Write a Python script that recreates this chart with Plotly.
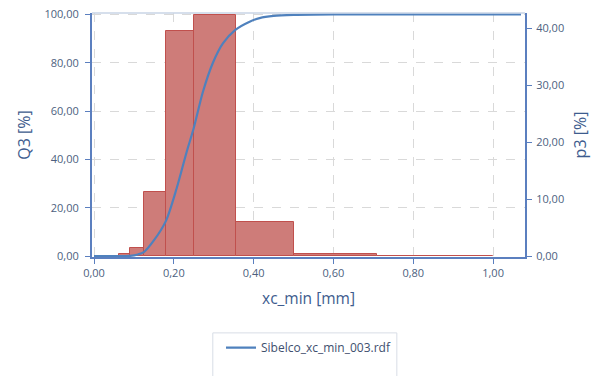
"""Particle size distribution: Q3 cumulative curve over p3 density bars."""

import plotly.graph_objects as go

# sieve class edges [mm] and density per class p3 [%]
class_edges = [0.063, 0.09, 0.125, 0.18, 0.25, 0.355, 0.5, 0.71, 1.0]
p3_values = [0.3, 1.4, 11.3, 39.6, 42.4, 6.0, 0.3, 0.1]

# cumulative curve Q3 [%]
q3_x = [0, 0.05, 0.09, 0.11, 0.125, 0.15, 0.18, 0.207, 0.232, 0.25,
        0.273, 0.298, 0.323, 0.355, 0.39, 0.415, 0.45, 0.5, 0.6, 1.07]
q3_y = [0, 0, 0.1, 0.7, 1.7, 6.5, 14.5, 28, 43, 53,
        68, 80, 88, 93.7, 97, 98.5, 99.4, 99.8, 100, 100]

series_name = "Sibelco_xc_min_003.rdf"

FONT = "Open Sans"
TICK_COLOR = "#4d5f80"
TITLE_COLOR = "#3e5c8e"
AXIS_COLOR = "#5b7fbf"
GRID_COLOR = "#d9d9d9"

centers = [(a + b) / 2 for a, b in zip(class_edges[:-1], class_edges[1:])]
widths = [b - a for a, b in zip(class_edges[:-1], class_edges[1:])]

fig = go.Figure()
fig.add_trace(
    go.Bar(
        x=centers,
        y=p3_values,
        width=widths,
        yaxis="y",
        marker={"color": "rgb(206,124,121)", "line": {"color": "#c0504d", "width": 1}},
        showlegend=False,
    )
)
fig.add_trace(
    go.Scatter(
        x=q3_x,
        y=q3_y,
        yaxis="y2",
        mode="lines",
        name=series_name,
        line={"color": "#4f81bd", "width": 2.2, "shape": "spline", "smoothing": 0.8},
    )
)

axis_common = dict(
    showline=True,
    linecolor=AXIS_COLOR,
    linewidth=2,
    ticks="outside",
    ticklen=5,
    tickcolor=AXIS_COLOR,
    tickfont={"family": FONT, "size": 11, "color": TICK_COLOR},
    tickformat=".2f",
    ticklabeloverflow="allow",
    zeroline=False,
    automargin=False,
)

fig.update_layout(
    width=597,
    height=376,
    margin={"l": 92, "r": 72, "t": 13, "b": 119},
    paper_bgcolor="white",
    plot_bgcolor="white",
    separators=",.",
    bargap=0,
    font={"family": FONT, "color": TICK_COLOR},
    xaxis=dict(
        axis_common,
        range=[-0.005, 1.08],
        dtick=0.2,
        tick0=0,
        showgrid=True,
        gridcolor=GRID_COLOR,
        griddash="dash",
        title={"text": "xc_min [mm]", "font": {"family": FONT, "size": 15.5, "color": TITLE_COLOR},
               "standoff": 14},
    ),
    yaxis=dict(
        axis_common,
        side="right",
        range=[-0.15, 42.7],
        dtick=10,
        showgrid=False,
        ticklabelstandoff=2,
        title={"text": "p3 [%]", "font": {"family": FONT, "size": 16, "color": TITLE_COLOR},
               "standoff": 12},
    ),
    yaxis2=dict(
        axis_common,
        side="left",
        overlaying="y",
        range=[-0.35, 100.6],
        dtick=20,
        showgrid=True,
        gridcolor=GRID_COLOR,
        griddash="dash",
        ticklabelstandoff=4,
        title={"text": "Q3 [%]", "font": {"family": FONT, "size": 16, "color": TITLE_COLOR},
               "standoff": 10},
    ),
    legend={
        "orientation": "h",
        "x": 0.5,
        "xanchor": "center",
        "y": -0.312,
        "yanchor": "top",
        "itemwidth": 30,
        "bgcolor": "rgba(0,0,0,0)",
        "font": {"family": FONT, "size": 12, "color": "#3e4f6e"},
    },
    shapes=[
        # legend frame, cut off by the bottom edge like in the source
        dict(type="rect", xref="paper", yref="paper", x0=0.279, x1=0.704, y0=-0.56, y1=-0.311,
             line={"color": "#d8dde6", "width": 1}, fillcolor="rgba(0,0,0,0)", layer="above"),
        # faint top frame line
        dict(type="line", xref="paper", yref="paper", x0=0, x1=1, y0=1, y1=1,
             line={"color": "#c8d4e6", "width": 1.5}),
    ],
)

# drop the default page margin so the figure sits at the window's corner
fig.write_html(
    "out.html",
    config={"displayModeBar": False},
    post_script="document.body.style.margin = '0';",
)
